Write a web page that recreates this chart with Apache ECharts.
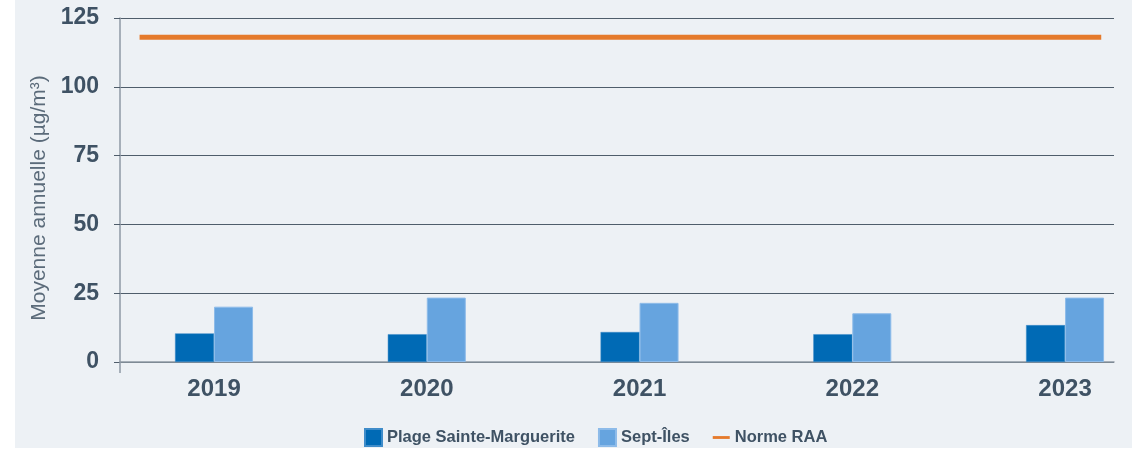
<!DOCTYPE html>
<html>
<head>
<meta charset="utf-8">
<script src="https://cdn.jsdelivr.net/npm/echarts@6/dist/echarts.min.js"></script>
<style>
  html, body { margin: 0; padding: 0; background: #ffffff; }
  #chart { position: absolute; left: 15px; top: 0; width: 1117px; height: 448px; background: #edf1f5; }
</style>
</head>
<body>
<div id="chart"></div>
<script>
// données
var annees = ['2019', '2020', '2021', '2022', '2023'];
var plageSteMarguerite = [10.4, 10.1, 10.9, 10.1, 13.4];
var septIles = [20.1, 23.4, 21.5, 17.7, 23.4];
var normeRAA = 118;
// étendue de la ligne de norme (en unités de l'axe des années)
var normeEtendue = [-0.35, 4.17];
var yTicks = [0, 25, 50, 75, 100, 125];

var texte = '#3f5264';
var police = '"Liberation Sans", Arial, sans-serif';
var xMin = -0.442;
var xMax = 4.23;

var chart = echarts.init(document.getElementById('chart'));

chart.setOption({
  animation: false,
  textStyle: { fontFamily: police },
  grid: { left: 105, right: 18, top: 18, bottom: 86 },
  legend: {
    top: 423,
    left: 344,
    itemWidth: 17,
    itemHeight: 17,
    itemGap: 23,
    textStyle: { color: texte, fontSize: 16.5, fontWeight: 'bold', fontFamily: police },
    data: [
      { name: 'Plage Sainte-Marguerite', icon: 'rect' },
      { name: 'Sept-Îles', icon: 'rect' },
      { name: 'Norme RAA', icon: 'path://M0,0 H24 V4 H0 Z' }
    ]
  },
  xAxis: {
    type: 'value',
    min: xMin,
    max: xMax,
    splitLine: { show: false },
    axisLine: { show: true, lineStyle: { color: '#8e99a4', width: 1.5 } },
    axisTick: {
      show: true,
      customValues: [xMin],
      length: 11,
      lineStyle: { color: '#8e99a4', width: 1.5 }
    },
    axisLabel: {
      customValues: [0, 1, 2, 3, 4],
      formatter: function (v) { return annees[Math.round(v)]; },
      color: texte,
      fontSize: 24,
      fontWeight: 'bold',
      margin: 15
    }
  },
  yAxis: {
    type: 'value',
    min: yTicks[0],
    max: yTicks[yTicks.length - 1],
    interval: 25,
    name: 'Moyenne annuelle (µg/m³)',
    nameLocation: 'middle',
    nameGap: 70,
    nameTextStyle: { color: '#5b6b7a', fontSize: 21, padding: [0, 16, 0, 0] },
    axisLine: { show: true, onZero: false, lineStyle: { color: '#8e99a4', width: 1.5 } },
    axisTick: { show: true, length: 6, lineStyle: { color: '#4f5d6b' } },
    splitLine: { show: true, lineStyle: { color: '#4f5d6b', width: 1 } },
    axisLabel: { color: texte, fontSize: 23, fontWeight: 'bold', margin: 21 }
  },
  series: [
    {
      name: 'Plage Sainte-Marguerite',
      type: 'bar',
      barWidth: 39,
      barGap: '0%',
      itemStyle: { color: '#006ab5', borderColor: '#3f8cc9', borderWidth: 0.5 },
      data: plageSteMarguerite.map(function (v, i) { return [i, v]; })
    },
    {
      name: 'Sept-Îles',
      type: 'bar',
      barWidth: 39,
      barGap: '0%',
      itemStyle: { color: '#66a4df', borderColor: '#8dbbe9', borderWidth: 1 },
      data: septIles.map(function (v, i) { return [i, v]; })
    },
    {
      name: 'Norme RAA',
      type: 'line',
      symbol: 'none',
      color: '#e57a2b',
      lineStyle: { color: '#e57a2b', width: 5 },
      data: normeEtendue.map(function (x) { return [x, normeRAA]; })
    }
  ]
});
</script>
</body>
</html>
